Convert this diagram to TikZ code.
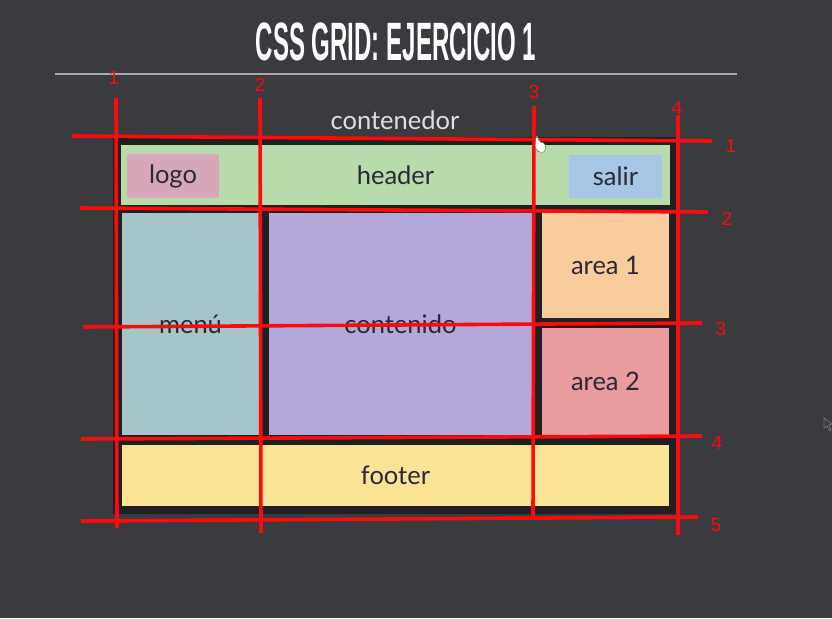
\documentclass[tikz,border=0pt]{standalone}
\usepackage{fontspec}
\setmainfont{Lato}
\newfontfamily\titlefont{Liberation Sans}
\newfontfamily\numfont{Liberation Sans}
\usetikzlibrary{positioning}
\definecolor{bgcol}{HTML}{393B3E}
\definecolor{rulecol}{HTML}{A8AAAC}
\definecolor{contcol}{HTML}{1F2021}
\definecolor{inkcol}{HTML}{2A2838}
\definecolor{headercol}{HTML}{B8DBAC}
\definecolor{logocol}{HTML}{D6A8BA}
\definecolor{salircol}{HTML}{A6C6E6}
\definecolor{menucol}{HTML}{A5C5C9}
\definecolor{contenidocol}{HTML}{B4A7D9}
\definecolor{areaonecol}{HTML}{F8CC9D}
\definecolor{areatwocol}{HTML}{E99B9D}
\definecolor{footercol}{HTML}{FBE396}
\definecolor{gridred}{HTML}{FF0A0A}
\tikzstyle{cell} = [rectangle, inner sep=0pt, text=inkcol, font=\fontsize{25.5}{25.5}\selectfont]
\tikzstyle{gridline} = [gridred, line width=3.6pt]
\tikzstyle{gridnum} = [text=gridred, inner sep=0pt, font=\numfont\fontsize{19}{19}\selectfont]

\begin{document}
\begin{tikzpicture}[x=1pt, y=-1pt]
  \fill[bgcol] (0,0) rectangle (832,618);
  \useasboundingbox (0,0) rectangle (832,618);

  \node[text=white, font=\titlefont\bfseries\fontsize{54}{54}\selectfont] (title) at (396,42)
    {\scalebox{0.445}[1]{CSS GRID: EJERCICIO 1}};
  \draw[rulecol, line width=1.5pt] (55,74) -- (737,74);

  % the grid container and its items
  \node[rectangle, fill=contcol, inner sep=0pt, minimum width=563, minimum height=377] (cont) at (394.5,325.5) {};
  \node[text=white!88!black, font=\fontsize{25.5}{25.5}\selectfont] (contlabel) at (395,120) {contenedor};

  \node[cell, fill=headercol, minimum width=549, minimum height=60] (header) at (395.5,175) {header};
  \node[cell, fill=logocol, minimum width=92, minimum height=44] (logo) at (173,176) {logo};
  \node[cell, fill=salircol, minimum width=93, minimum height=43] (salir) at (615.5,176.5) {salir};
  \node[cell, fill=menucol, minimum width=137, minimum height=222] (menu) at (190.5,324) {men\'u};
  \node[cell, fill=contenidocol, minimum width=263, minimum height=222] (contenido) at (400.5,324) {contenido};
  \node[cell, fill=areaonecol, minimum width=127, minimum height=105] (area1) at (605.5,265.5) {area 1};
  \node[cell, fill=areatwocol, minimum width=127, minimum height=107] (area2) at (605.5,381.5) {area 2};
  \node[cell, fill=footercol, minimum width=547, minimum height=61] (footer) at (395.5,475.5) {footer};

  % column lines
  \node[gridnum] (col1) at (114,78) {1};
  \node[gridnum] (col2) at (260,85) {2};
  \node[gridnum] (col3) at (534,92) {3};
  \node[gridnum] (col4) at (677,108) {4};
  \coordinate (col1top) at (116,98);
  \coordinate (col1bot) at (117,528);
  \coordinate (col2top) at (260,98);
  \coordinate (col2bot) at (261,533);
  \coordinate (col3top) at (534,106);
  \coordinate (col3bot) at (533,517);
  \coordinate (col4top) at (678,115);
  \coordinate (col4bot) at (678,535);
  \draw[gridline] (col1top) -- (col1bot);
  \draw[gridline] (col2top) -- (col2bot);
  \draw[gridline] (col3top) -- (col3bot);
  \draw[gridline] (col4top) -- (col4bot);

  % row lines
  \node[gridnum] (row1) at (731,146) {1};
  \node[gridnum] (row2) at (727,219) {2};
  \node[gridnum] (row3) at (721,329) {3};
  \node[gridnum] (row4) at (717,443) {4};
  \node[gridnum] (row5) at (716,525) {5};
  \coordinate (row1left) at (72,136);
  \coordinate (row1right) at (712,141);
  \coordinate (row2left) at (80,208);
  \coordinate (row2right) at (708,212);
  \coordinate (row3left) at (83,327);
  \coordinate (row3right) at (702,323);
  \coordinate (row4left) at (81,439);
  \coordinate (row4right) at (702,436);
  \coordinate (row5left) at (81,521);
  \coordinate (row5right) at (698,517);
  \draw[gridline] (row1left) -- (row1right);
  \draw[gridline] (row2left) -- (row2right);
  \draw[gridline] (row3left) -- (row3right);
  \draw[gridline] (row4left) -- (row4right);
  \draw[gridline] (row5left) -- (row5right);

  % mouse pointers
  \fill[white, draw=black!60, line width=0.4pt, rounded corners=2pt]
    (536,136) -- (538,136) -- (539,142) -- (545,143) -- (546,151) -- (540,153) -- (535,148) -- cycle;
  \draw[black!55, line width=0.8pt, fill=bgcol] (824,418) -- (824,428) -- (827,426) -- (830,431) -- (831,430) -- (829,425) -- (832,424) -- cycle;
\end{tikzpicture}
\end{document}
